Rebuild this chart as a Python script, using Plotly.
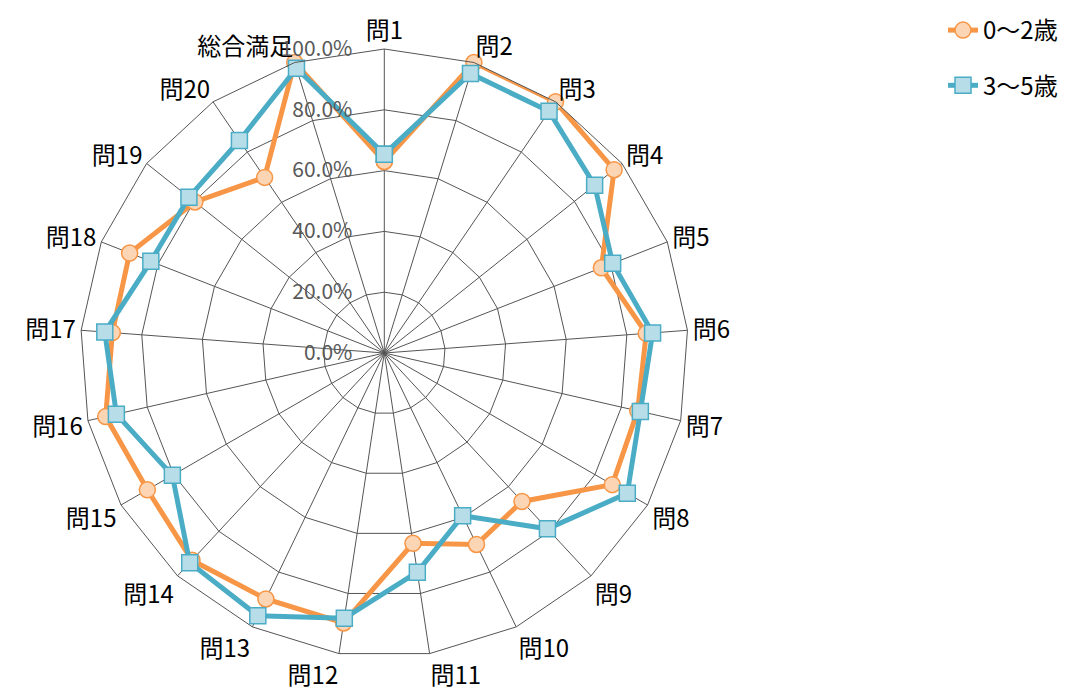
import plotly.graph_objects as go

categories = ["問1", "問2", "問3", "問4", "問5", "問6", "問7", "問8", "問9", "問10",
              "問11", "問12", "問13", "問14", "問15", "問16", "問17", "問18", "問19", "問20",
              "総合満足"]
age_0_2 = [0.630, 1.000, 1.000, 0.967, 0.767, 0.864, 0.855, 0.866, 0.666, 0.699,
           0.633, 0.898, 0.898, 0.930, 0.900, 0.940, 0.897, 0.900, 0.797, 0.699,
           1.000]
age_3_5 = [0.654, 0.962, 0.962, 0.885, 0.807, 0.885, 0.864, 0.923, 0.789, 0.594,
           0.729, 0.882, 0.959, 0.941, 0.805, 0.904, 0.922, 0.825, 0.822, 0.846,
           0.980]
series_names = ["0〜2歳", "3〜5歳"]
radial_ticks = [0.0, 0.2, 0.4, 0.6, 0.8, 1.0]

FONT = "Noto Sans CJK JP"

W, H = 1059, 683          # page body has an 8px margin
cx, cy, R = 376.3, 345.0, 304.0

def closed(v):
    return list(v) + [v[0]]

fig = go.Figure()
fig.add_trace(go.Scatterpolar(
    r=closed(age_0_2), theta=closed(categories), name=series_names[0],
    mode="lines+markers", legendgroup="a",
    line=dict(color="#F79646", width=5),
    marker=dict(symbol="circle", size=16, color="#FCD5B5",
                line=dict(color="#F79646", width=1.5)),
))
fig.add_trace(go.Scatterpolar(
    r=closed(age_3_5), theta=closed(categories), name=series_names[1],
    mode="lines+markers", legendgroup="b",
    line=dict(color="#4BACC6", width=5),
    marker=dict(symbol="square", size=16, color="#B7DEE8",
                line=dict(color="#4BACC6", width=1.5)),
))

fig.update_layout(
    width=W, height=H,
    margin=dict(l=0, r=0, t=0, b=0),
    paper_bgcolor="white",
    font=dict(family=FONT, size=20, color="black"),
    polar=dict(
        domain=dict(x=[(cx - R) / W, (cx + R) / W],
                    y=[(H - cy - R) / H, (H - cy + R) / H]),
        bgcolor="white",
        gridshape="linear",
        angularaxis=dict(
            rotation=90, direction="clockwise",
            showline=True, linecolor="#555555", linewidth=1,
            gridcolor="#555555", gridwidth=1,
            ticks="", ticklen=0,
            tickfont=dict(family=FONT, size=24, color="black"),
        ),
        radialaxis=dict(
            range=[0, 1], tickvals=radial_ticks, tickformat=".1%",
            angle=90, tickangle=90, side="counterclockwise",
            showline=False, gridcolor="#555555", gridwidth=1,
            ticks="outside", ticklen=24, tickcolor="rgba(0,0,0,0)",
            tickfont=dict(family=FONT, size=21, color="#595959"),
        ),
    ),
    legend=dict(
        x=935 / W, y=1.0, xanchor="left", yanchor="top",
        font=dict(family=FONT, size=24, color="black"),
        tracegroupgap=21, traceorder="grouped",
        bgcolor="rgba(0,0,0,0)",
    ),
)

fig.write_html("out.html")
